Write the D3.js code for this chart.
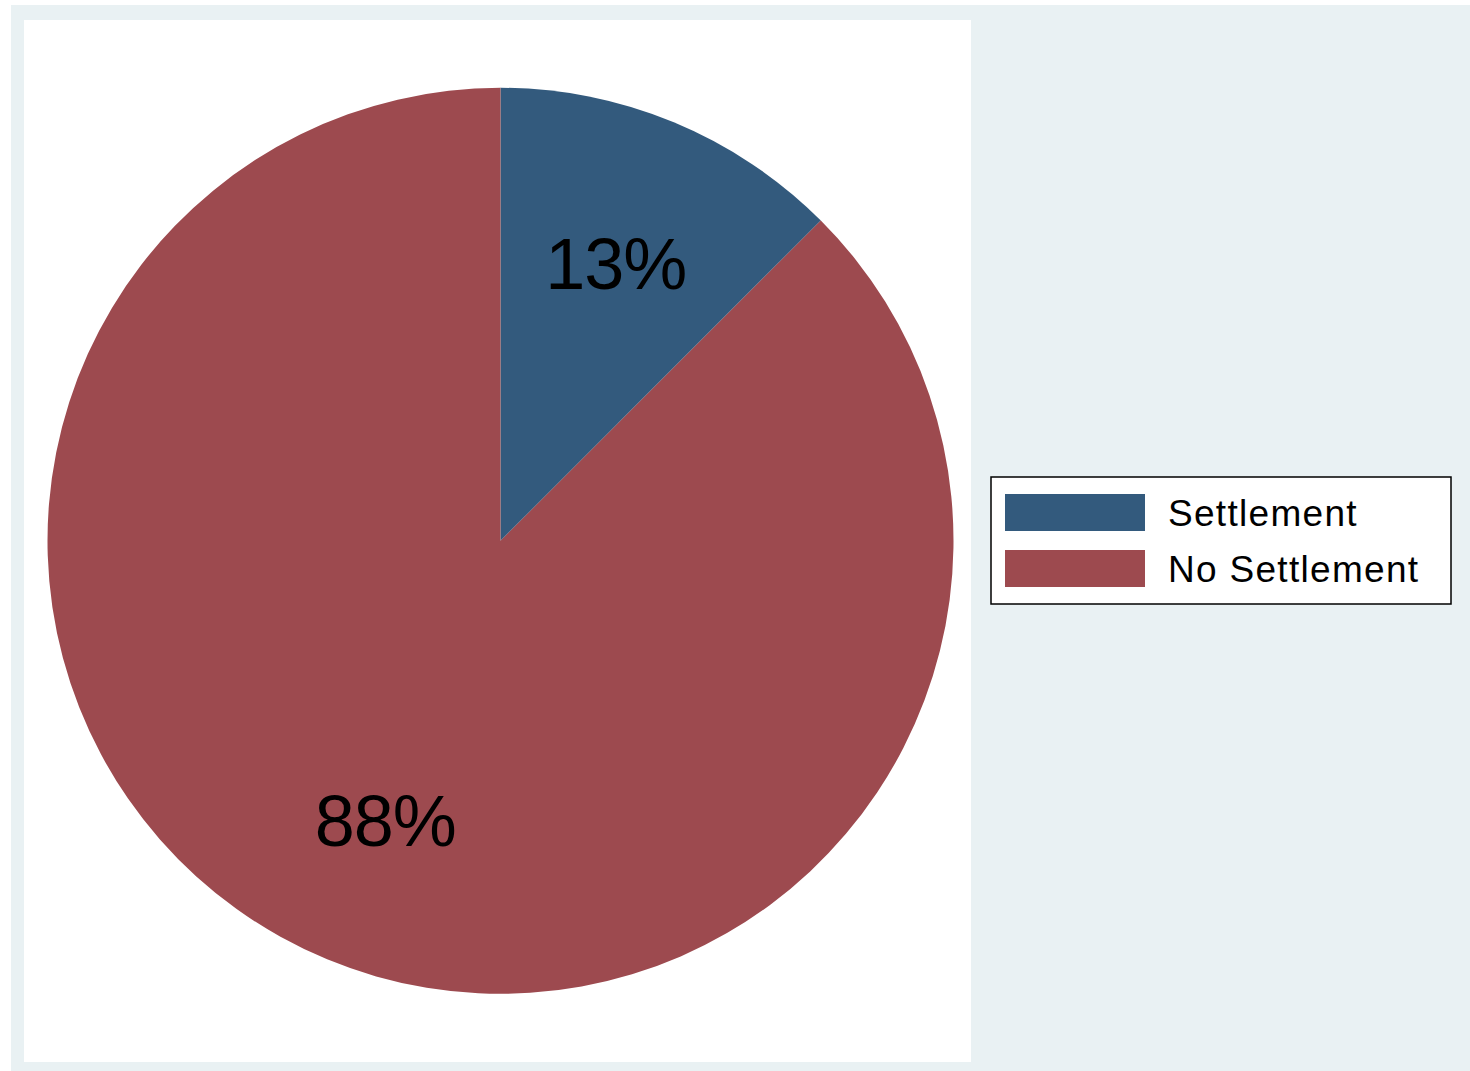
<!DOCTYPE html>
<html>
<head>
<meta charset="utf-8">
<script src="https://cdn.jsdelivr.net/npm/d3@7/dist/d3.min.js"></script>
<style>
  html, body { margin: 0; padding: 0; background: #ffffff; }
  svg { display: block; }
  text { font-family: "Liberation Sans", Arial, sans-serif; }
</style>
</head>
<body>
<svg id="chart" width="1470" height="1071"></svg>
<script>
// Share of cases by outcome (percent)
const categories = ["Settlement", "No Settlement"];
const shares = [12.5, 87.5];
const colors = ["#335A7D", "#9D4A4F"];

const svg = d3.select("#chart");
const W = 1470, H = 1071;

// Outer graph region and inner plot panel
svg.append("rect").attr("x", 11).attr("y", 5).attr("width", W - 11).attr("height", H - 5)
  .attr("fill", "#E9F1F3");
svg.append("rect").attr("x", 24).attr("y", 20).attr("width", 947).attr("height", 1042)
  .attr("fill", "#ffffff");

// Pie
const cx = 500.5, cy = 540.8, R = 453;
const data = categories.map((c, i) => ({ name: c, value: shares[i], color: colors[i] }));
const pie = d3.pie().value(d => d.value).sort(null);
const arcs = pie(data);
const arc = d3.arc().innerRadius(0).outerRadius(R);
const labelArc = d3.arc().innerRadius(R * 0.665).outerRadius(R * 0.665);

const g = svg.append("g").attr("transform", `translate(${cx},${cy})`);
g.selectAll("path.slice").data(arcs).join("path")
  .attr("class", "slice")
  .attr("d", arc)
  .attr("fill", d => d.data.color);

g.selectAll("text.pct").data(arcs).join("text")
  .attr("class", "pct")
  .attr("transform", d => `translate(${labelArc.centroid(d)})`)
  .attr("text-anchor", "middle")
  .attr("dy", "0.37em")
  .attr("font-size", 72)
  .attr("letter-spacing", -1)
  .attr("fill", "#000")
  .text(d => Math.round(d.data.value) + "%");

// Legend
const lg = svg.append("g");
lg.append("rect").attr("x", 991).attr("y", 477).attr("width", 460).attr("height", 127)
  .attr("fill", "#ffffff").attr("stroke", "#000").attr("stroke-width", 1.5);
const rows = lg.selectAll("g.row").data(data).join("g")
  .attr("class", "row")
  .attr("transform", (d, i) => `translate(1005,${494 + i * 56})`);
rows.append("rect").attr("width", 140).attr("height", 37).attr("fill", d => d.color);
rows.append("text").attr("x", 163).attr("y", 32).attr("font-size", 37)
  .attr("letter-spacing", 1.3).attr("fill", "#000")
  .text(d => d.name);
</script>
</body>
</html>
